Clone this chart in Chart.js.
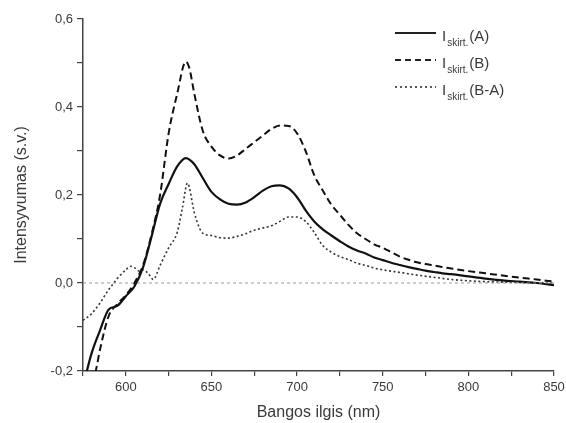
<!DOCTYPE html>
<html>
<head>
<meta charset="utf-8">
<script src="https://cdn.jsdelivr.net/npm/chart.js@4.4.1/dist/chart.umd.min.js"></script>
<style>
  html, body { margin: 0; padding: 0; background: #fff; }
  #wrap { width: 566px; height: 423px; position: relative; }
</style>
</head>
<body>
<div id="wrap"><canvas id="spectrum"></canvas></div>
<script>
// Wavelength (nm) and intensity (s.v.)
const wlA = [575, 580, 585, 590, 595, 600, 605, 610, 615, 620, 625, 630, 635, 640, 645, 650, 655, 660, 665, 670,
  675, 680, 685, 690, 695, 700, 705, 710, 715, 720, 725, 730, 735, 740, 745, 750, 755, 760, 765, 770,
  775, 780, 785, 790, 800, 810, 820, 830, 840, 850];
const intA = [-0.235, -0.16, -0.107, -0.06, -0.052, -0.03, -0.008, 0.035, 0.105, 0.18, 0.225, 0.265, 0.284, 0.27, 0.238, 0.207, 0.19, 0.18, 0.178, 0.183,
  0.195, 0.21, 0.22, 0.222, 0.215, 0.195, 0.165, 0.14, 0.122, 0.108, 0.095, 0.083, 0.074, 0.067, 0.058, 0.052, 0.046, 0.041, 0.036, 0.032,
  0.028, 0.025, 0.022, 0.02, 0.015, 0.01, 0.006, 0.003, 0.0, -0.005];

const wlB = [575, 580, 583, 585, 590, 595, 600, 605, 610, 615, 620, 625, 630, 635, 637, 640, 645, 650, 655, 660,
  665, 670, 675, 680, 685, 690, 695, 700, 705, 710, 715, 720, 725, 730, 735, 740, 745, 750, 755, 760,
  765, 770, 775, 780, 785, 790, 800, 810, 820, 830, 840, 850];
const intB = [-0.3, -0.24, -0.19, -0.15, -0.075, -0.048, -0.028, 0.0, 0.04, 0.11, 0.2, 0.34, 0.43, 0.503, 0.49, 0.43, 0.345, 0.31, 0.29, 0.283,
  0.29, 0.305, 0.32, 0.335, 0.35, 0.358, 0.357, 0.34, 0.3, 0.245, 0.21, 0.178, 0.155, 0.132, 0.113, 0.1, 0.088, 0.08, 0.07, 0.06,
  0.053, 0.047, 0.043, 0.04, 0.036, 0.033, 0.027, 0.022, 0.017, 0.012, 0.008, 0.003];

const wlBA = [575, 580, 585, 590, 593, 595, 600, 603, 605, 608, 610, 613, 616, 620, 625, 630, 633, 636, 640, 643,
  645, 650, 655, 660, 665, 670, 675, 680, 685, 690, 695, 700, 705, 710, 715, 720, 725, 730, 735, 740,
  745, 750, 760, 770, 780, 790, 800, 810, 820, 830, 840, 850];
const intBA = [-0.085, -0.07, -0.045, -0.015, 0.0, 0.01, 0.03, 0.038, 0.035, 0.027, 0.03, 0.022, 0.008, 0.04, 0.08, 0.115, 0.17, 0.227, 0.16, 0.125,
  0.113, 0.108, 0.103, 0.102, 0.106, 0.112, 0.12, 0.125, 0.13, 0.14, 0.15, 0.15, 0.14, 0.115, 0.085, 0.07, 0.06, 0.053, 0.045, 0.04,
  0.034, 0.03, 0.024, 0.018, 0.013, 0.008, 0.005, 0.003, 0.002, 0.001, 0.0, 0.0];

const zeroLine = [[575, 0], [850, 0]];

const xRange = [575, 850];
const yRange = [-0.2, 0.6];

// legend entries (main label, subscript, suffix)
const legendItems = [
  { main: 'I', sub: 'skirt.', tail: '(A)', dash: [] },
  { main: 'I', sub: 'skirt.', tail: '(B)', dash: [6, 4] },
  { main: 'I', sub: 'skirt.', tail: '(B-A)', dash: [2, 3] }
];

const axisColor = '#444';
const textColor = '#3a3a3a';

function toPoints(xs, ys) {
  return xs.map((x, i) => ({ x: x, y: ys[i] }));
}

// Draws the legend with subscripts, which the built-in legend can't do
const subLegend = {
  id: 'subLegend',
  afterDraw(chart) {
    const ctx = chart.ctx;
    const lineX0 = 395, lineX1 = 436, textX = 442;
    const rows = [33, 60, 87];
    ctx.save();
    legendItems.forEach((item, i) => {
      const y = rows[i];
      ctx.strokeStyle = '#222';
      ctx.lineWidth = i === 2 ? 1.4 : 1.8;
      ctx.setLineDash(item.dash);
      ctx.beginPath();
      ctx.moveTo(lineX0, y);
      ctx.lineTo(lineX1, y);
      ctx.stroke();
      ctx.setLineDash([]);

      ctx.fillStyle = textColor;
      ctx.textBaseline = 'alphabetic';
      ctx.textAlign = 'left';
      ctx.font = '15px "Liberation Sans", Arial, sans-serif';
      let x = textX;
      ctx.fillText(item.main, x, y + 8);
      x += ctx.measureText(item.main).width + 1;
      ctx.font = '10px "Liberation Sans", Arial, sans-serif';
      ctx.fillText(item.sub, x, y + 13);
      x += ctx.measureText(item.sub).width + 1;
      ctx.font = '15px "Liberation Sans", Arial, sans-serif';
      ctx.fillText(item.tail, x, y + 8);
    });
    ctx.restore();
  }
};

const ctx = document.getElementById('spectrum').getContext('2d');
new Chart(ctx, {
  type: 'line',
  data: {
    datasets: [
      {
        label: 'zero',
        data: zeroLine,
        borderColor: '#9a9a9a',
        borderWidth: 1,
        borderDash: [3, 3],
        pointRadius: 0
      },
      {
        label: 'Iskirt.(A)',
        data: toPoints(wlA, intA),
        borderColor: '#111',
        borderWidth: 2.2,
        pointRadius: 0,
        cubicInterpolationMode: 'monotone'
      },
      {
        label: 'Iskirt.(B)',
        data: toPoints(wlB, intB),
        borderColor: '#111',
        borderWidth: 2,
        borderDash: [7, 4],
        pointRadius: 0,
        cubicInterpolationMode: 'monotone'
      },
      {
        label: 'Iskirt.(B-A)',
        data: toPoints(wlBA, intBA),
        borderColor: '#333',
        borderWidth: 1.6,
        borderDash: [2, 2.5],
        pointRadius: 0,
        cubicInterpolationMode: 'monotone'
      }
    ]
  },
  options: {
    responsive: true,
    maintainAspectRatio: false,
    animation: false,
    layout: { padding: { left: 0, right: 12, top: 19, bottom: 0 } },
    plugins: {
      legend: { display: false },
      tooltip: { enabled: false }
    },
    scales: {
      x: {
        type: 'linear',
        min: xRange[0],
        max: xRange[1],
        afterFit(scale) {
          scale.height = 52;
          scale.paddingRight = 0; // layout padding already leaves room for "850"
        },
        border: { display: true, color: axisColor, width: 1.5 },
        grid: { drawOnChartArea: false, drawTicks: true, tickLength: 5, color: axisColor, lineWidth: 1.2 },
        ticks: {
          stepSize: 25,
          autoSkip: false,
          maxRotation: 0,
          padding: 4,
          color: textColor,
          font: { family: '"Liberation Sans", Arial, sans-serif', size: 13 },
          callback: v => (v % 50 === 0 ? String(v) : '')
        },
        title: {
          display: true,
          text: 'Bangos ilgis (nm)',
          color: textColor,
          font: { family: '"Liberation Sans", Arial, sans-serif', size: 16 },
          padding: { top: 0, bottom: 1 }
        }
      },
      y: {
        type: 'linear',
        min: yRange[0],
        max: yRange[1],
        afterFit(scale) { scale.width = 83; },
        border: { display: true, color: axisColor, width: 1.5 },
        grid: { drawOnChartArea: false, drawTicks: true, tickLength: 6, color: axisColor, lineWidth: 1.2 },
        ticks: {
          stepSize: 0.1,
          autoSkip: false,
          padding: 4,
          color: textColor,
          font: { family: '"Liberation Sans", Arial, sans-serif', size: 13 },
          callback: v => {
            const r = Math.round(v * 10);
            return r % 2 === 0 ? (r / 10).toFixed(1).replace('.', ',') : '';
          }
        },
        title: {
          display: true,
          text: 'Intensyvumas (s.v.)',
          color: textColor,
          font: { family: '"Liberation Sans", Arial, sans-serif', size: 16 },
          padding: { top: 12, bottom: 0 }
        }
      }
    }
  },
  plugins: [subLegend]
});
</script>
</body>
</html>
